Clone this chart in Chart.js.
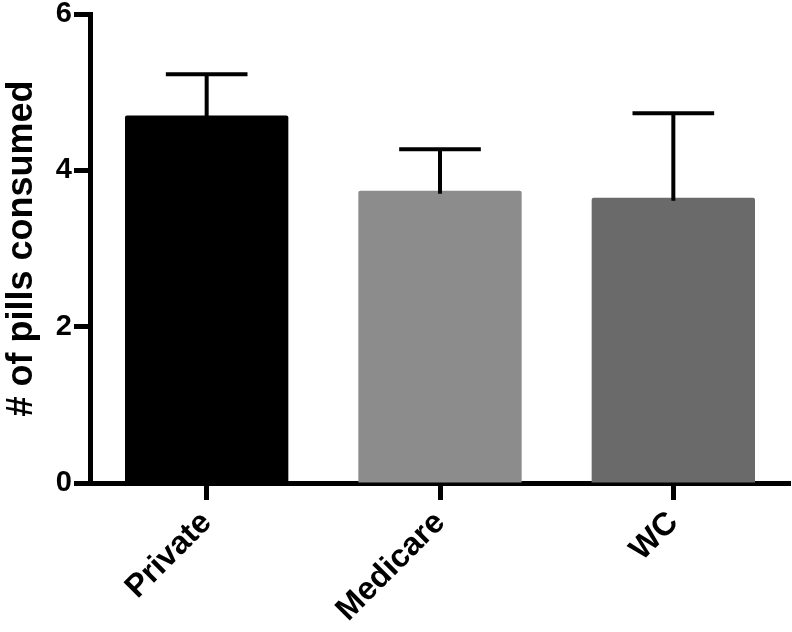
<!DOCTYPE html>
<html>
<head>
<meta charset="utf-8">
<script src="https://cdn.jsdelivr.net/npm/chart.js@4.4.0/dist/chart.umd.min.js"></script>
<style>
  html, body { margin: 0; padding: 0; background: #fff; }
  #wrap { width: 792px; height: 632px; }
</style>
</head>
<body>
<div id="wrap"><canvas id="pillsChart" width="792" height="632"></canvas></div>
<script>
var groups = ['Private', 'Medicare', 'WC'];
var meanPills = [4.70, 3.74, 3.65];
var errTop = [5.23, 4.27, 4.73];
var barColors = ['#000000', '#8c8c8c', '#6a6a6a'];
var yTicks = [0, 2, 4, 6];

// draws the upper SEM bars from errTop through the y scale
var errorBars = {
  id: 'errorBars',
  afterDatasetsDraw: function(chart) {
    var ctx = chart.ctx;
    var yScale = chart.scales.y;
    var meta = chart.getDatasetMeta(0);
    ctx.save();
    ctx.strokeStyle = '#000';
    ctx.lineWidth = 4;
    meta.data.forEach(function(bar, i) {
      var yTop = yScale.getPixelForValue(errTop[i]);
      var yBase = yScale.getPixelForValue(meanPills[i]);
      var half = bar.width / 4;
      ctx.beginPath();
      ctx.moveTo(bar.x, yBase + 3);
      ctx.lineTo(bar.x, yTop);
      ctx.moveTo(bar.x - half, yTop);
      ctx.lineTo(bar.x + half, yTop);
      ctx.stroke();
    });
    ctx.restore();
  }
};

var ctx = document.getElementById('pillsChart').getContext('2d');
new Chart(ctx, {
  type: 'bar',
  data: {
    labels: groups,
    datasets: [{
      data: meanPills,
      backgroundColor: barColors,
      borderRadius: 2,
      borderSkipped: 'bottom',
      barPercentage: 0.70,
      categoryPercentage: 1.0
    }]
  },
  options: {
    responsive: false,
    animation: false,
    layout: { padding: { top: 14, right: 2, left: 0, bottom: 0 } },
    plugins: {
      legend: { display: false },
      tooltip: { enabled: false }
    },
    scales: {
      x: {
        grid: {
          offset: false,
          drawOnChartArea: false,
          drawTicks: true,
          tickLength: 17,
          tickWidth: 5,
          tickColor: '#000'
        },
        border: { display: true, width: 5, color: '#000' },
        ticks: {
          color: '#000',
          minRotation: 45,
          maxRotation: 45,
          padding: 4,
          font: { family: 'Liberation Sans', size: 32, weight: 'bold' }
        },
        afterFit: function(s) {
          s.height = 149;
          s.paddingLeft = 0;
          s.paddingRight = 0;
        }
      },
      y: {
        min: 0,
        max: 6,
        afterBuildTicks: function(s) {
          s.ticks = yTicks.map(function(v) { return { value: v }; });
        },
        grid: {
          drawOnChartArea: false,
          drawTicks: true,
          tickLength: 16,
          tickWidth: 5,
          tickColor: '#000'
        },
        border: { display: true, width: 5, color: '#000' },
        ticks: {
          color: '#000',
          padding: 2,
          font: { family: 'Liberation Sans', size: 29, weight: 'bold' }
        },
        title: {
          display: true,
          text: '# of pills consumed',
          color: '#000',
          padding: 0,
          font: { family: 'Liberation Sans', size: 36, weight: 'bold' }
        },
        afterFit: function(s) {
          s.width = 90;
          s.paddingTop = 0;
          s.paddingBottom = 0;
        }
      }
    }
  },
  plugins: [errorBars]
});
</script>
</body>
</html>
